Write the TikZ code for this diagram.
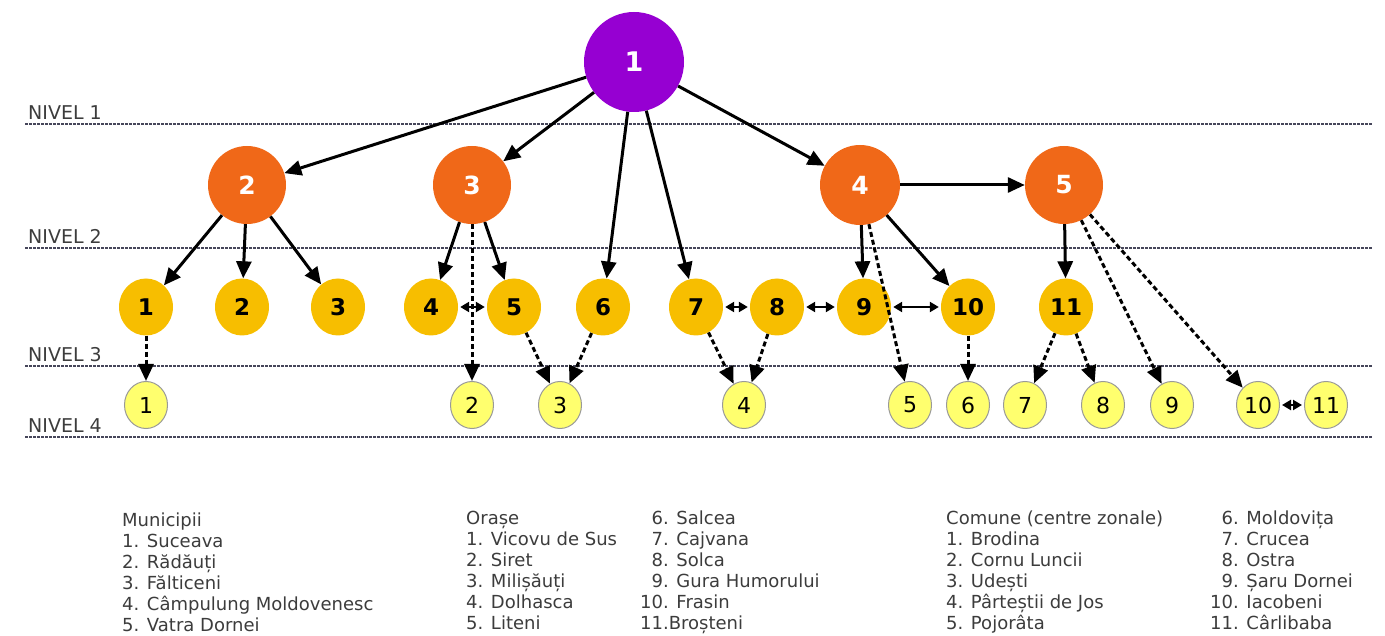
\documentclass[tikz,border=0pt]{standalone}
\usepackage{fontspec}
\setmainfont{DejaVu Sans}
\usetikzlibrary{arrows.meta,shapes.geometric}

\definecolor{nodepurple}{RGB}{150,0,210}
\definecolor{nodeorange}{RGB}{240,104,24}
\definecolor{nodegold}{RGB}{247,190,0}
\definecolor{nodeyellow}{RGB}{255,255,110}
\definecolor{legendgray}{RGB}{60,60,60}
\definecolor{levelgray}{RGB}{70,70,90}

\begin{document}
\begin{tikzpicture}[x=1pt, y=-1pt,
    county/.style={circle, fill=nodepurple, minimum size=100pt, inner sep=0pt, text=white, font=\fontsize{27}{27}\selectfont\bfseries},
    city/.style={circle, fill=nodeorange, minimum size=78pt, inner sep=0pt, text=white, font=\fontsize{25}{25}\selectfont\bfseries},
    town/.style={ellipse, fill=nodegold, minimum width=54pt, minimum height=57pt, inner sep=0pt, font=\fontsize{23}{23}\selectfont\bfseries},
    commune/.style={ellipse, fill=nodeyellow, draw=gray!80, line width=1pt, minimum width=43pt, minimum height=47pt, inner sep=0pt, font=\fontsize{22}{22}\selectfont},
    level/.style={draw=levelgray, line width=2.4pt, dash pattern=on 2.5pt off 1.5pt},
    levellabel/.style={anchor=south west, inner sep=0pt, text=legendgray, font=\fontsize{19}{19}\selectfont},
    link/.style={-{Triangle[length=17pt,width=15pt]}, line width=3pt},
    weak/.style={link, dash pattern=on 5pt off 3pt},
    both/.style={{Triangle[length=9pt,width=10pt]}-{Triangle[length=9pt,width=10pt]}, line width=2.6pt, shorten <=2pt, shorten >=2pt},
    legend/.style={anchor=north west, align=left, inner sep=0pt, text=legendgray, font=\fontsize{18}{21}\selectfont}]
    \useasboundingbox (0,0) rectangle (1385,636);

    \foreach \y/\n in {124/1, 248/2, 366/3, 437/4} {
        \draw[level] (25,\y) -- (1372,\y);
        \node[levellabel] (nivel\n) at (28,\y-4) {NIVEL \n};
    }

    \node[county] (m1) at (634,62) {1};
    \node[city] (m2) at (247,185) {2};
    \node[city] (m3) at (472,185) {3};
    \node[city, minimum size=80pt] (m4) at (860,185) {4};
    \node[city] (m5) at (1064,185) {5};

    \foreach \i/\x in {1/146, 2/242, 3/338, 4/431, 5/514, 6/603, 7/696, 8/777, 9/864, 10/968, 11/1066}
        \node[town] (o\i) at (\x,307) {\i};

    \foreach \i/\x in {1/146, 2/472, 3/560, 4/744, 5/910, 6/968, 7/1025, 8/1103, 9/1172, 10/1258, 11/1326}
        \node[commune] (c\i) at (\x,405) {\i};

    \draw[link] (m1) -- (m2);
    \draw[link] (m1) -- (m3);
    \draw[link] (m1) -- (o6);
    \draw[link] (m1) -- (o7);
    \draw[link] (m1) -- (m4);
    \draw[link] (m4) -- (m5);
    \draw[link] (m2) -- (o1);
    \draw[link] (m2) -- (o2);
    \draw[link] (m2) -- (o3);
    \draw[link] (m3) -- (o4);
    \draw[link] (m3) -- (o5);
    \draw[link] (m4) -- (o9);
    \draw[link] (m4) -- (o10);
    \draw[link] (m5) -- (o11);

    \draw[weak] (m3) -- (c2);
    \draw[weak] (m4) -- (c5);
    \draw[weak] (m5) -- (c9);
    \draw[weak] (m5) -- (c10);
    \draw[weak] (o1) -- (c1);
    \draw[weak] (o5) -- (c3);
    \draw[weak] (o6) -- (c3);
    \draw[weak] (o7) -- (c4);
    \draw[weak] (o8) -- (c4);
    \draw[weak] (o10) -- (c6);
    \draw[weak] (o11) -- (c7);
    \draw[weak] (o11) -- (c8);

    \draw[both] (o4) -- (o5);
    \draw[both] (o7) -- (o8);
    \draw[both] (o8) -- (o9);
    \draw[both] (o9) -- (o10);
    \draw[both] (c10) -- (c11);

    \node[legend] (municipii) at (122,513) {Municipii\\1. Suceava\\2. Rădăuți\\3. Fălticeni\\4. Câmpulung Moldovenesc\\5. Vatra Dornei};
    \node[legend] (orase) at (466,511) {Orașe\\1. Vicovu de Sus\\2. Siret\\3. Milișăuți\\4. Dolhasca\\5. Liteni};
    \node[legend] (orase2) at (640,510) {\begin{tabular}{@{}r@{ }l@{}}6. & Salcea\\7. & Cajvana\\8. & Solca\\9. & Gura Humorului\\10. & Frasin\\\multicolumn{2}{@{}l@{}}{11.Broșteni}\end{tabular}};
    \node[legend] (comune) at (946,511) {Comune (centre zonale)\\1. Brodina\\2. Cornu Luncii\\3. Udești\\4. Pârteștii de Jos\\5. Pojorâta};
    \node[legend] (comune2) at (1210,510) {\begin{tabular}{@{}r@{ }l@{}}6. & Moldovița\\7. & Crucea\\8. & Ostra\\9. & Șaru Dornei\\10. & Iacobeni\\11. & Cârlibaba\end{tabular}};
\end{tikzpicture}
\end{document}
